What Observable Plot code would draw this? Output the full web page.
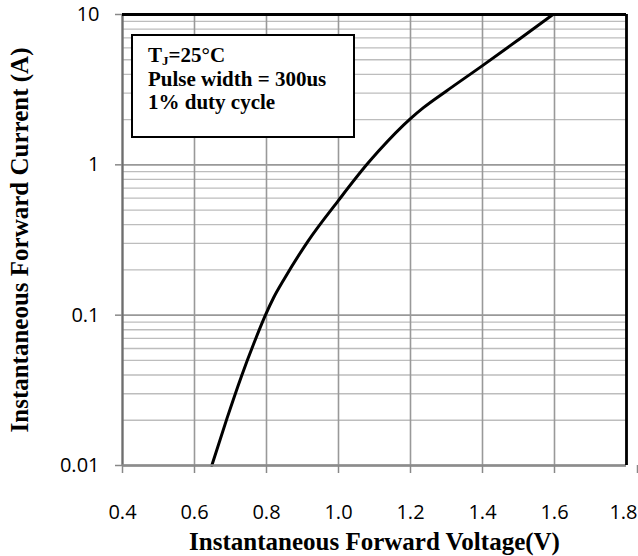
<!DOCTYPE html>
<html>
<head>
<meta charset="utf-8">
<script src="https://cdn.jsdelivr.net/npm/d3@7"></script>
<script src="https://cdn.jsdelivr.net/npm/@observablehq/plot@0.6"></script>
<style>
  body { margin: 0; background: #fff; }
  #wrap { position: relative; width: 638px; height: 556px; }
  #note {
    position: absolute; left: 131px; top: 34px; width: 220px; height: 100px;
    border: 2px solid #000; background: #fff; box-sizing: content-box;
    font-family: "Liberation Serif", "Times New Roman", serif; font-weight: bold;
    font-size: 21px; line-height: 23.5px; padding: 0;
  }
  #note .lines { position: absolute; left: 15px; top: 8px; white-space: nowrap; }
  #note sub { font-size: 13px; line-height: 0; vertical-align: -3px; }
</style>
</head>
<body>
<div id="wrap"></div>
<script>
// Forward voltage (V) and forward current (A)
const voltage = [0.648, 0.690, 0.730, 0.765, 0.797, 0.820, 0.848, 0.915, 1.000, 1.078, 1.112, 1.200, 1.236, 1.300, 1.400, 1.500, 1.596];
const current = [0.010, 0.0205, 0.039, 0.065, 0.100, 0.131, 0.172, 0.310, 0.580, 1.000, 1.240, 2.030, 2.400, 3.100, 4.570, 6.800, 10.00];

const xTicks = [0.4, 0.6, 0.8, 1.0, 1.2, 1.4, 1.6, 1.8];
const yTicks = [0.01, 0.1, 1, 10];
const yTickLabels = ["0.01", "0.1", "1", "10"];
const yMinor = [];
for (const d of [0.01, 0.1, 1]) for (let k = 2; k <= 9; k++) yMinor.push(+(d * k).toPrecision(3));

const xTitle = "Instantaneous Forward Voltage(V)";
const yTitle = "Instantaneous Forward Current (A)";
const noteLines = ["T<sub>J</sub>=25°C", "Pulse width = 300us", "1% duty cycle"];

const data = voltage.map((v, i) => ({v, i: current[i]}));
const serif = "Liberation Serif, Times New Roman, serif";
const lastX = xTicks[xTicks.length - 1];

const chart = Plot.plot({
  width: 638,
  height: 556,
  marginLeft: 122,
  marginRight: 12,
  marginTop: 14,
  marginBottom: 91,
  style: {fontFamily: "Open Sans, sans-serif", fontSize: "20px", background: "#fff", color: "#000"},
  x: {domain: [0.4, 1.8]},
  y: {type: "log", domain: [0.01, 10]},
  marks: [
    Plot.ruleY(yMinor, {stroke: "#bdbdbd", strokeWidth: 1.3}),
    Plot.ruleY(yTicks, {stroke: "#999", strokeWidth: 1.8}),
    Plot.ruleX(xTicks, {stroke: "#999", strokeWidth: 1.6}),
    Plot.line(data, {x: "v", y: "i", stroke: "#000", strokeWidth: 3, curve: "monotone-x"}),
    Plot.ruleX([0.4], {stroke: "#6e6e6e", strokeWidth: 2.2}),
    Plot.ruleY([0.01], {stroke: "#8c8c8c", strokeWidth: 2.5}),
    Plot.ruleY([10], {stroke: "#000", strokeWidth: 2.8}),
    Plot.ruleX([1.8], {stroke: "#000", strokeWidth: 2.8}),
    Plot.axisX(xTicks.filter(d => d !== lastX), {tickSize: 8, tickPadding: 31, tickFormat: d => d.toFixed(1), stroke: "#888", strokeWidth: 1.5, fill: "#000", label: null, fontSize: 20}),
    Plot.axisX([lastX], {tickSize: 8, tickPadding: 31, tickFormat: d => d.toFixed(1), stroke: "#888", strokeWidth: 1.5, fill: "#000", label: null, fontSize: 20, textAnchor: "end", dx: 11}),
    Plot.axisY(yTicks, {tickSize: 7, tickPadding: 16, tickFormat: d => yTickLabels[yTicks.indexOf(d)], stroke: "#888", strokeWidth: 1.5, fill: "#000", label: null, fontSize: 20}),
    Plot.text([xTitle], {frameAnchor: "bottom", dy: 76, fontFamily: serif, fontWeight: "bold", fontSize: 25, fill: "#000", lineAnchor: "middle", textAnchor: "middle"}),
    Plot.text([yTitle], {frameAnchor: "left", dx: -103, rotate: -90, fontFamily: serif, fontWeight: "bold", fontSize: 25, fill: "#000", lineAnchor: "middle", textAnchor: "middle"})
  ]
});

const wrap = document.getElementById("wrap");
wrap.appendChild(chart);
const note = document.createElement("div");
note.id = "note";
note.innerHTML = '<div class="lines">' + noteLines.map(s => "<div>" + s + "</div>").join("") + "</div>";
wrap.appendChild(note);
</script>
</body>
</html>
